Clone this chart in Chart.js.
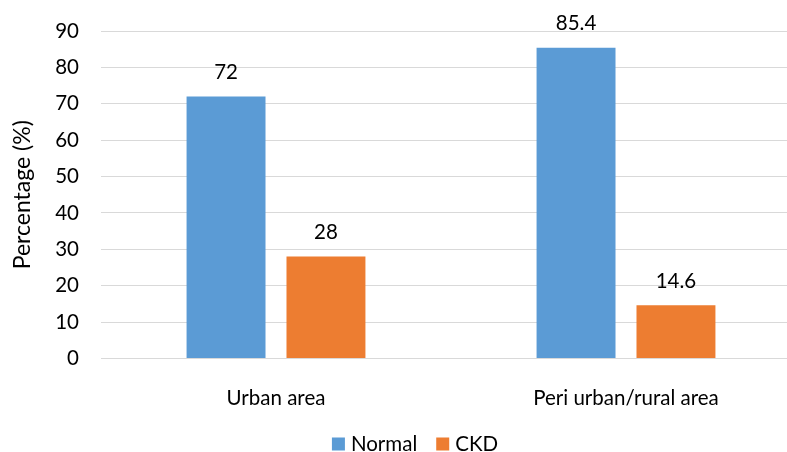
<!DOCTYPE html>
<html>
<head>
<meta charset="utf-8">
<script src="https://cdn.jsdelivr.net/npm/chart.js@4.4.0/dist/chart.umd.min.js"></script>
<style>
  html, body { margin: 0; padding: 0; background: #fff; overflow: hidden; }
  #wrap { width: 787px; height: 452px; overflow: hidden; position: relative; }
  #box { width: 830px; height: 452px; position: absolute; left: 0; top: 0; }
</style>
</head>
<body>
<div id="wrap"><div id="box"><canvas id="c"></canvas></div></div>
<script>
const categories = ['Urban area', 'Peri urban/rural area'];
const normalValues = [72, 85.4];
const ckdValues = [28, 14.6];
const yTicks = [0, 10, 20, 30, 40, 50, 60, 70, 80, 90];

const FONT = 'Lato, "Liberation Sans", sans-serif';
const TEXT = '#000000';
const PLOT_TOP = 31;
const PLOT_BOTTOM = 358.5;

// Value labels drawn just above each bar
const valueLabels = {
  id: 'valueLabels',
  afterDatasetsDraw(chart) {
    const ctx = chart.ctx;
    ctx.save();
    ctx.font = '20.5px ' + FONT;
    ctx.fillStyle = TEXT;
    ctx.textAlign = 'center';
    ctx.textBaseline = 'middle';
    chart.data.datasets.forEach((ds, i) => {
      chart.getDatasetMeta(i).data.forEach((bar, j) => {
        ctx.fillText(String(ds.data[j]), bar.x, bar.y - 24);
      });
    });
    ctx.restore();
  }
};

// Legend row under the category labels: square swatch followed by the series name
const bottomLegend = {
  id: 'bottomLegend',
  afterDraw(chart) {
    const ctx = chart.ctx;
    const box = 13, gapText = 6, gapItem = 19, centerX = 415, centerY = 444;
    ctx.save();
    ctx.font = '20.5px ' + FONT;
    ctx.textBaseline = 'middle';
    ctx.textAlign = 'left';
    const items = chart.data.datasets.map(ds => ({
      label: ds.label, color: ds.backgroundColor, w: ctx.measureText(ds.label).width
    }));
    const total = items.reduce((s, it) => s + box + gapText + it.w, 0) + gapItem * (items.length - 1);
    let x = centerX - total / 2;
    items.forEach(it => {
      ctx.fillStyle = it.color;
      ctx.fillRect(x, centerY - box / 2, box, box);
      x += box + gapText;
      ctx.fillStyle = TEXT;
      ctx.fillText(it.label, x, centerY);
      x += it.w + gapItem;
    });
    ctx.restore();
  }
};

new Chart(document.getElementById('c'), {
  type: 'bar',
  data: {
    labels: categories,
    datasets: [
      { label: 'Normal', data: normalValues, backgroundColor: '#5B9BD5', categoryPercentage: 0.571, barPercentage: 0.79 },
      { label: 'CKD', data: ckdValues, backgroundColor: '#ED7D31', categoryPercentage: 0.571, barPercentage: 0.79 }
    ]
  },
  options: {
    responsive: true,
    maintainAspectRatio: false,
    animation: false,
    layout: { padding: { top: PLOT_TOP, right: 29, left: 0, bottom: 0 } },
    plugins: {
      tooltip: { enabled: false },
      legend: { display: false }
    },
    scales: {
      x: {
        grid: { display: false, drawTicks: false },
        border: { display: true, color: '#D9D9D9', width: 1 },
        ticks: { color: TEXT, font: { family: FONT, size: 20.5 }, padding: 28, maxRotation: 0 },
        afterFit(scale) { scale.height = scale.chart.height - PLOT_BOTTOM; }
      },
      y: {
        min: 0, max: 90,
        afterBuildTicks(scale) { scale.ticks = yTicks.map(v => ({ value: v })); },
        grid: { color: '#D9D9D9', lineWidth: 1, drawTicks: false },
        border: { display: false },
        ticks: { color: TEXT, font: { family: FONT, size: 20.5 }, padding: 22 },
        title: { display: true, text: 'Percentage (%)', color: TEXT, font: { family: FONT, size: 23 }, padding: { top: 9, bottom: 0 } },
        afterFit(scale) {
          scale.width = 101;
          scale.paddingTop = 0;
          scale.paddingBottom = 0;
        }
      }
    }
  },
  plugins: [valueLabels, bottomLegend]
});
</script>
</body>
</html>
